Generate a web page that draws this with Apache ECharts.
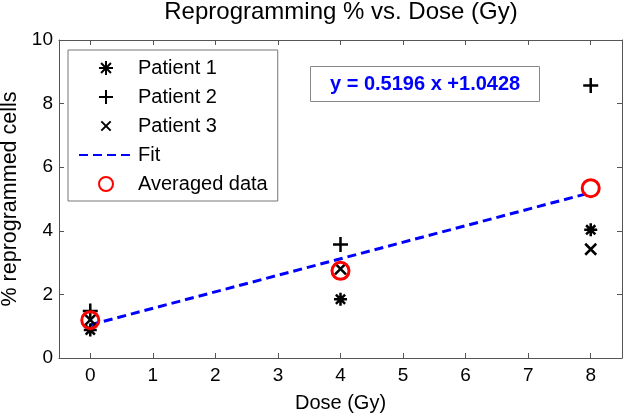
<!DOCTYPE html>
<html><head><meta charset="utf-8">
<script src="https://cdn.jsdelivr.net/npm/echarts@6/dist/echarts.min.js"></script>
<style>html,body{margin:0;padding:0;background:#fff}#c{width:625px;height:418px}</style>
</head><body><div id="c"></div>
<script>
const doses = [0, 4, 8];
const patient1 = [0.88, 1.85, 4.03];
const patient2 = [1.48, 3.57, 8.57];
const patient3 = [1.20, 2.80, 3.42];
const averaged = [1.19, 2.74, 5.34];
const fitSlope = 0.5196, fitIntercept = 1.0428;
const fitX = [0, 8];
const xTicks = [0,1,2,3,4,5,6,7,8];
const yTicks = [0,2,4,6,8,10];

const F = 'Liberation Sans, Arial, sans-serif';
const pts = a => doses.map((d,i)=>[d,a[i]]);
const star = 'path://M5,0L5,10M0,5L10,5M1.46,1.46L8.54,8.54M1.46,8.54L8.54,1.46';
const plus = 'path://M5,0L5,10M0,5L10,5';
const cross = 'path://M0,0L10,10M0,10L10,0';
const crossLegend = 'path://M-2.5,-2.5M12.5,12.5M0,0L10,10M0,10L10,0';
const mk = (name, sym, size, data, bw) => ({
  name, type:'scatter', data: pts(data), symbol: sym, symbolSize: size,
  itemStyle:{color:'none', borderColor:'#000', borderWidth:bw, opacity:1}, z:3
});
const chart = echarts.init(document.getElementById('c'));
const line = {show:true, onZero:false, lineStyle:{color:'#555', width:1}};
const tickX = {show:true, inside:true, length:5, lineStyle:{color:'#555'}, customValues:xTicks};
const tickY = {show:true, inside:true, length:5, lineStyle:{color:'#555'}, customValues:yTicks};
chart.setOption({
  animation:false,
  backgroundColor:'#fff',
  title:[
    {text:'Reprogramming % vs. Dose (Gy)', left:341, textAlign:'center', top:0, padding:0,
     textStyle:{fontFamily:F, fontSize:24, fontWeight:'normal', color:'#000'}},
    {text:'y = 0.5196 x +1.0428', left:310, top:66, padding:[8,20,8,20],
     borderColor:'#888', borderWidth:1,
     textStyle:{fontFamily:F, fontSize:20, fontWeight:'bold', color:'#0000ff'}}
  ],
  grid:{left:59, right:3, top:40, bottom:60, containLabel:false, outerBoundsMode:'none'},
  legend:{
    orient:'vertical', left:68, top:50, padding:[8,10,7,10],
    borderColor:'#777', borderWidth:1, backgroundColor:'#fff',
    itemWidth:54, itemHeight:14, itemGap:9,
    textStyle:{fontFamily:F, fontSize:20, color:'#000'},
    data:['Patient 1','Patient 2',
      {name:'Patient 3', icon:crossLegend},
      {name:'Fit', itemStyle:{opacity:0}},
      'Averaged data']
  },
  xAxis:[
    {type:'value', min:-0.5, max:8.5, position:'bottom',
      name:'Dose (Gy)', nameLocation:'middle', nameGap:35,
      nameTextStyle:{fontFamily:F, fontSize:20, color:'#000'},
      axisLabel:{fontFamily:F, fontSize:19, color:'#000', margin:8, customValues:xTicks},
      axisLine:line, axisTick:tickX, splitLine:{show:false}},
    {type:'value', min:-0.5, max:8.5, position:'top',
      axisLabel:{show:false}, axisLine:line, axisTick:tickX, splitLine:{show:false}}
  ],
  yAxis:[
    {type:'value', min:0, max:10, position:'left',
      name:'% reprogrammed cells', nameLocation:'middle', nameGap:33,
      nameTextStyle:{fontFamily:F, fontSize:21.5, color:'#000'},
      axisLabel:{fontFamily:F, fontSize:19, color:'#000', margin:6, customValues:yTicks},
      axisLine:line, axisTick:tickY, splitLine:{show:false}},
    {type:'value', min:0, max:10, position:'right',
      axisLabel:{show:false}, axisLine:line, axisTick:tickY, splitLine:{show:false}}
  ],
  series:[
    mk('Patient 1', star, 13, patient1, 2.5),
    mk('Patient 2', plus, 15, patient2, 2.5),
    mk('Patient 3', cross, 11, patient3, 2.5),
    {name:'Fit', type:'line', data: fitX.map(x=>[x, fitSlope*x+fitIntercept]),
     showSymbol:false, symbol:'none', lineStyle:{color:'#0000ff', width:3, type:[9,5]},
     itemStyle:{color:'#0000ff'}, z:2},
    {name:'Averaged data', type:'scatter', data: pts(averaged), symbol:'circle', symbolSize:17,
     itemStyle:{color:'none', borderColor:'#ff0000', borderWidth:3, opacity:1}, z:4}
  ]
});
</script></body></html>
